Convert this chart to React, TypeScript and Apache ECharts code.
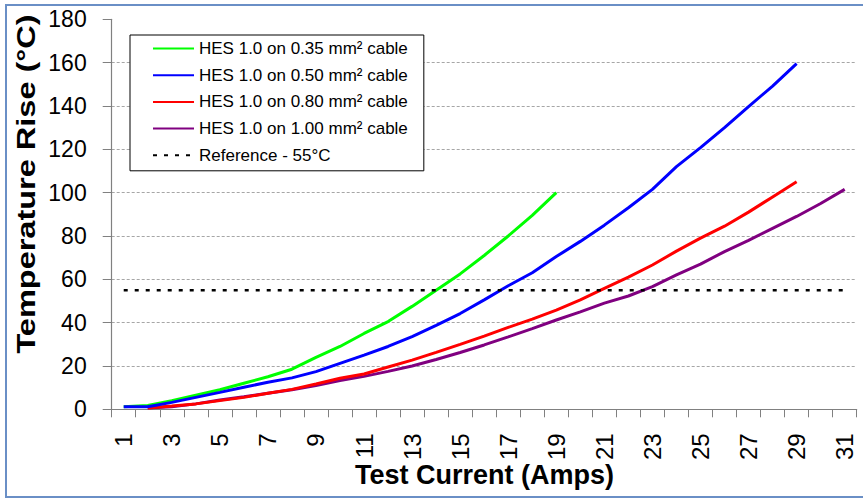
import React, { useEffect, useRef } from 'react';
import * as echarts from 'echarts';

const xCategories = ['1', '2', '3', '4', '5', '6', '7', '8', '9', '10', '11', '12', '13', '14', '15', '16', '17', '18', '19', '20', '21', '22', '23', '24', '25', '26', '27', '28', '29', '30', '31'];

const seriesNames = [
  'HES 1.0 on 0.35 mm\u00B2 cable',
  'HES 1.0 on 0.50 mm\u00B2 cable',
  'HES 1.0 on 0.80 mm\u00B2 cable',
  'HES 1.0 on 1.00 mm\u00B2 cable',
  'Reference - 55\u00B0C',
];

const green035 = [1.2, 1.8, 4, 6.5, 9, 12, 15, 18.5, 24, 29, 35, 40.5, 47.5, 55, 62.5, 71, 80, 89.5, 100];
const blue050 = [1.2, 1.2, 3.2, 5.5, 7.8, 10.2, 12.5, 14.5, 17.4, 21.2, 25, 29, 33.5, 38.7, 44.2, 50.5, 57, 63, 70.5, 77.5, 85, 93, 101.5, 112, 120.8, 130, 139.7, 149.2, 159.5];
const red080 = [null, 0.6, 1.5, 2.5, 4, 5.5, 7.4, 9.2, 11.7, 14.3, 16.3, 19.5, 22.7, 26.3, 30, 33.8, 37.8, 41.6, 45.8, 50.5, 55.8, 61, 66.6, 73, 79, 84.5, 91, 98, 105];
const purple100 = [null, 0.6, 1.2, 2.5, 4.3, 5.8, 7.4, 9, 11, 13.3, 15.2, 17.5, 20, 23, 26.2, 29.7, 33.4, 37.2, 41.2, 45, 49, 52.3, 56.6, 62, 67, 72.8, 78, 83.5, 89, 95, 101.5];
const reference55 = [55, 55, 55, 55, 55, 55, 55, 55, 55, 55, 55, 55, 55, 55, 55, 55, 55, 55, 55, 55, 55, 55, 55, 55, 55, 55, 55, 55, 55, 55, 55];

const yMin = 0;
const yMax = 180;
const yStep = 20;

const FONT = '"Liberation Sans", Arial, sans-serif';

export default function App() {
  const ref = useRef<HTMLDivElement>(null);

  useEffect(() => {
    if (!ref.current) return;
    const chart = echarts.init(ref.current, undefined, { renderer: 'svg' });
    const lineSeries = (name: string, data: (number | null)[], color: string, z: number) => ({
      name,
      type: 'line',
      data,
      symbol: 'none',
      z,
      lineStyle: { width: 3, color },
      itemStyle: { color },
    });
    chart.setOption({
      animation: false,
      backgroundColor: '#ffffff',
      grid: { left: 111.7, right: 6.3, top: 19.3, bottom: 88.7, containLabel: false },
      legend: {
        data: seriesNames,
        orient: 'vertical',
        left: 130,
        top: 35,
        padding: [5, 16, 7, 22],
        itemWidth: 41,
        itemHeight: 14,
        itemGap: 9.7,
        backgroundColor: '#ffffff',
        borderColor: '#000000',
        borderWidth: 1,
        selectedMode: false,
        itemStyle: { opacity: 0 },
        textStyle: { fontSize: 17, fontFamily: FONT, color: '#000', lineHeight: 17 },
        z: 10,
      },
      xAxis: {
        type: 'category',
        data: xCategories,
        boundaryGap: true,
        axisLine: { show: true, lineStyle: { color: '#808080', width: 1.2 } },
        axisTick: { show: true, interval: 0, length: 8, lineStyle: { color: '#808080' } },
        axisLabel: { interval: 1, rotate: 90, margin: 24, fontSize: 24, fontFamily: FONT, color: '#000' },
        splitLine: { show: false },
      },
      yAxis: {
        type: 'value',
        min: yMin,
        max: yMax,
        interval: yStep,
        axisLine: { show: true, lineStyle: { color: '#808080', width: 1.2 } },
        axisTick: { show: true, length: 9, lineStyle: { color: '#808080' } },
        axisLabel: { margin: 25, fontSize: 23, fontFamily: FONT, color: '#000' },
        splitLine: {
          show: true,
          showMinLine: false,
          showMaxLine: false,
          lineStyle: { color: '#A6A6A6', type: [3, 2], width: 1 },
        },
      },
      series: [
        lineSeries(seriesNames[3], purple100, '#800080', 2),
        lineSeries(seriesNames[2], red080, '#FF0000', 3),
        lineSeries(seriesNames[0], green035, '#00FF00', 4),
        lineSeries(seriesNames[1], blue050, '#0000FF', 5),
        {
          name: seriesNames[4],
          type: 'line',
          data: reference55,
          symbol: 'none',
          z: 6,
          lineStyle: { width: 2.5, color: '#000000', type: [4, 7] },
          itemStyle: { color: '#000000' },
        },
      ],
      graphic: [
        {
          type: 'rect',
          silent: true,
          z: 100,
          shape: { x: 6, y: 5, width: 880, height: 492 },
          style: { fill: 'none', stroke: '#6A8FC6', lineWidth: 2 },
        },
        {
          type: 'text',
          x: 26.5,
          y: 184,
          rotation: Math.PI / 2,
          scaleX: 1.3,
          style: {
            text: 'Temperature Rise (\u00B0C)',
            fontSize: 25,
            fontWeight: 'bold',
            fontFamily: FONT,
            fill: '#000',
            align: 'center',
            verticalAlign: 'middle',
          },
        },
        {
          type: 'text',
          x: 484.5,
          y: 475,
          style: {
            text: 'Test Current (Amps)',
            fontSize: 27,
            fontWeight: 'bold',
            fontFamily: FONT,
            fill: '#000',
            align: 'center',
            verticalAlign: 'middle',
          },
        },
      ],
    });
    return () => chart.dispose();
  }, []);

  return (
    <div
      ref={ref}
      style={{ position: 'fixed', left: 0, top: 0, width: 863, height: 498, background: '#fff' }}
    />
  );
}
